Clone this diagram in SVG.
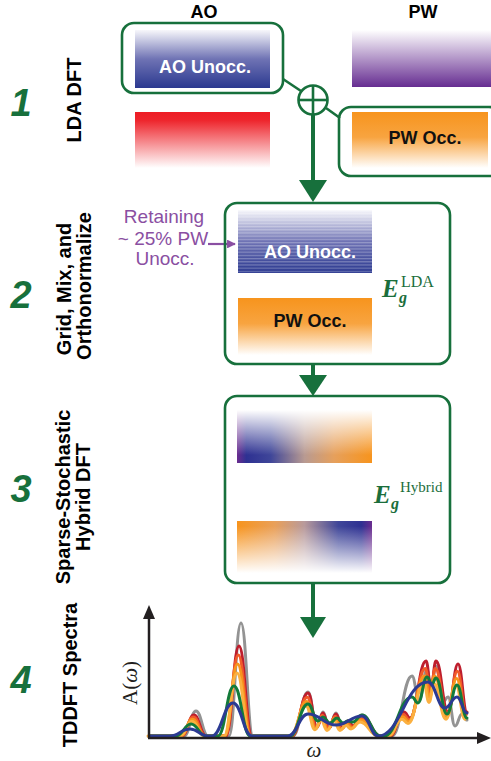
<svg xmlns="http://www.w3.org/2000/svg" xmlns:xlink="http://www.w3.org/1999/xlink" width="491" height="761" viewBox="0 0 491 761">
<style>
.box{fill:none;stroke:#17703c;stroke-width:2.6}
.conn{stroke:#17703c;stroke-width:2.6;fill:none}
.shaft{stroke:#17703c;stroke-width:4;fill:none}
.head{fill:#17703c}
.num{font-family:"Liberation Sans",Arial,sans-serif;font-weight:bold;font-style:italic;font-size:38px;fill:#17703c;text-anchor:middle}
.lab{font-family:"Liberation Sans",Arial,sans-serif;font-weight:bold;font-size:20px;fill:#000;text-anchor:middle}
.hdr{font-family:"Liberation Sans",Arial,sans-serif;font-weight:bold;font-size:18px;fill:#000;text-anchor:middle}
.inw{font-family:"Liberation Sans",Arial,sans-serif;font-weight:bold;font-size:18px;fill:#fff;text-anchor:middle}
.inb{font-family:"Liberation Sans",Arial,sans-serif;font-weight:bold;font-size:18px;fill:#111;text-anchor:middle}
.math{font-family:"Liberation Serif","Times New Roman",serif;fill:#1b6e3c}
.ret{font-family:"Liberation Sans",Arial,sans-serif;font-size:19px;fill:#8a4fa2;text-anchor:middle}
.axis{stroke:#231f20;stroke-width:2.5;fill:none}
.sp{fill:none;stroke-width:3;stroke-linejoin:round;stroke-linecap:round}
</style>
<defs>
<linearGradient id="gBlue" x1="0" y1="0" x2="0" y2="1"><stop offset="0" stop-color="#f7f7fb"/><stop offset="0.5" stop-color="#6f73b4"/><stop offset="1" stop-color="#2b3990"/></linearGradient>
<linearGradient id="gPurple" x1="0" y1="0" x2="0" y2="1"><stop offset="0" stop-color="#ffffff"/><stop offset="1" stop-color="#662d91"/></linearGradient>
<linearGradient id="gRed" x1="0" y1="0" x2="0" y2="1"><stop offset="0" stop-color="#ed1c24"/><stop offset="0.15" stop-color="#ee262d"/><stop offset="1" stop-color="#ffffff"/></linearGradient>
<linearGradient id="gOrange" x1="0" y1="0" x2="0" y2="1"><stop offset="0" stop-color="#f7941d"/><stop offset="0.45" stop-color="#f8a440"/><stop offset="1" stop-color="#ffffff"/></linearGradient>
<linearGradient id="gMixTop" x1="0" y1="0" x2="1" y2="0"><stop offset="0" stop-color="#6b2c8f"/><stop offset="0.07" stop-color="#2e3192"/><stop offset="0.25" stop-color="#3f4699"/><stop offset="0.5" stop-color="#b89a92"/><stop offset="0.72" stop-color="#e6a05c"/><stop offset="1" stop-color="#f7941d"/></linearGradient>
<linearGradient id="gMixBot" x1="0" y1="0" x2="1" y2="0"><stop offset="0" stop-color="#f7941d"/><stop offset="0.28" stop-color="#e9a05a"/><stop offset="0.5" stop-color="#b89a9c"/><stop offset="0.75" stop-color="#3f4699"/><stop offset="0.92" stop-color="#2e3192"/><stop offset="1" stop-color="#6b2c8f"/></linearGradient>
<linearGradient id="fadeTop" x1="0" y1="0" x2="0" y2="1"><stop offset="0" stop-color="#fff" stop-opacity="1"/><stop offset="0.85" stop-color="#fff" stop-opacity="0"/></linearGradient>
<linearGradient id="fadeBot" x1="0" y1="0" x2="0" y2="1"><stop offset="0.1" stop-color="#fff" stop-opacity="0"/><stop offset="1" stop-color="#fff" stop-opacity="1"/></linearGradient>
<pattern id="stripes" x="0" y="210" width="4" height="3.2" patternUnits="userSpaceOnUse"><rect x="0" y="0" width="4" height="1.2" fill="#ffffff" fill-opacity="0.28"/></pattern>
<marker id="pArrow" viewBox="0 0 10 10" refX="9" refY="5" markerWidth="4" markerHeight="4" orient="auto"><path d="M0,0 L10,5 L0,10 z" fill="#8a4fa2"/></marker>
<path id="redCurve" d="M150,736 L182,736 C187.4,736 188.6,715 194,715 C199.4,715 200.6,736 206,736 L226,736 C231.850,736 233.15,646 239,646 C244.85,646 246.15,736 252,736 L292,736 C299.2,736 300.8,693 308,693 C312.05,693 312.95,727 317,727 C319.7,727 320.3,713 323,713 C325.7,713 326.3,728 329,728 C332.15,728 332.85,714 336,714 C338.7,714 339.3,728 342,728 C344.7,728 345.3,721 348,721 C350.25,721 350.75,726 353,726 C357.05,726 357.95,716 362,716 C370.1,716 371.9,736 380,736 L390,736 C396.3,736 397.7,712 404,712 C406.7,712 407.3,718 410,718 C417.2,718 418.8,661 426,661 C428.25,661 428.75,688 431,688 C433.25,688 433.75,661 436,661 C441.4,661 442.6,712 448,712 C452.5,712 453.5,664 458,664 C462.05,664 462.95,712 467,712" vector-effect="non-scaling-stroke"/>
</defs>
<rect x="0" y="0" width="491" height="761" fill="#fff"/>

<g id="headers">
<text class="hdr" x="204" y="18">AO</text>
<text class="hdr" x="423" y="18">PW</text>
</g>
<g id="step1-label">
<text class="num" x="21" y="116">1</text>
<text class="lab" transform="translate(81,100) rotate(-90)">LDA DFT</text>
</g>
<g id="step2-label">
<text class="num" x="21" y="308">2</text>
<text class="lab" transform="translate(71,289) rotate(-90)">Grid, Mix, and</text>
<text class="lab" transform="translate(91,286) rotate(-90)">Orthonormalize</text>
</g>
<g id="step3-label">
<text class="num" x="21" y="502">3</text>
<text class="lab" transform="translate(70,497) rotate(-90)">Sparse-Stochastic</text>
<text class="lab" transform="translate(90,497) rotate(-90)">Hybrid DFT</text>
</g>
<g id="step4-label">
<text class="num" x="21" y="693">4</text>
<text class="lab" transform="translate(77,675) rotate(-90)">TDDFT Spectra</text>
</g>

<g id="connectors">
<line class="conn" x1="283" y1="79" x2="301" y2="91"/>
<line class="conn" x1="326" y1="108" x2="340" y2="118"/>
<line class="shaft" x1="313" y1="114" x2="313" y2="184"/>
<polygon class="head" points="299,180 327,180 313,202"/>
<line class="shaft" x1="313" y1="364" x2="313" y2="379"/>
<polygon class="head" points="299,375 327,375 313,396"/>
<line class="shaft" x1="313" y1="583" x2="313" y2="621"/>
<polygon class="head" points="300,617 326,617 313,638"/>
<line x1="208" y1="244" x2="235" y2="244" stroke="#8a4fa2" stroke-width="2.2" marker-end="url(#pArrow)"/>
</g>

<g id="ao-unocc-1">
<rect x="135" y="30" width="135" height="58" fill="url(#gBlue)"/>
<text class="inw" x="205" y="73">AO Unocc.</text>
<rect class="box" x="122" y="23" width="161" height="70" rx="12"/>
</g>
<g id="pw-unocc-1">
<rect x="352" y="30" width="139" height="57" fill="url(#gPurple)"/>
</g>
<g id="ao-occ-1">
<rect x="135" y="112" width="135" height="56" fill="url(#gRed)"/>
</g>
<g id="pw-occ-1">
<rect x="352" y="112" width="136" height="56" fill="url(#gOrange)"/>
<text class="inb" x="425" y="144">PW Occ.</text>
<rect class="box" x="339" y="107" width="162" height="69" rx="12"/>
</g>
<g id="merge">
<circle cx="313" cy="100" r="14.5" fill="#fff" stroke="#17703c" stroke-width="2.6"/>
<line class="conn" x1="313" y1="85.5" x2="313" y2="114.5"/>
<line class="conn" x1="298.5" y1="100" x2="327.5" y2="100"/>
</g>

<g id="step2">
<rect class="box" x="225" y="203" width="225" height="161" rx="12"/>
<rect x="238" y="210" width="134" height="63" fill="url(#gBlue)"/>
<rect x="238" y="210" width="134" height="63" fill="url(#stripes)"/>
<text class="inw" x="310" y="258">AO Unocc.</text>
<rect x="238" y="298" width="134" height="57" fill="url(#gOrange)"/>
<text class="inb" x="310" y="327">PW Occ.</text>
<text class="math" x="382" y="297" font-size="25" font-weight="bold" font-style="italic">E</text>
<text class="math" x="399" y="303" font-size="16" font-weight="bold" font-style="italic">g</text>
<text class="math" x="401" y="287" font-size="16">LDA</text>
</g>
<g id="retaining">
<text class="ret" x="164" y="223">Retaining</text>
<text class="ret" x="163" y="245">~ 25% PW</text>
<text class="ret" x="165" y="265">Unocc.</text>
</g>

<g id="step3">
<rect class="box" x="225" y="396" width="225" height="187" rx="12"/>
<rect x="237" y="410" width="135" height="53" fill="url(#gMixTop)"/>
<rect x="237" y="410" width="135" height="53" fill="url(#fadeTop)"/>
<rect x="237" y="521" width="135" height="52" fill="url(#gMixBot)"/>
<rect x="237" y="521" width="135" height="52" fill="url(#fadeBot)"/>
<text class="math" x="374" y="503" font-size="25" font-weight="bold" font-style="italic">E</text>
<text class="math" x="391" y="509" font-size="16" font-weight="bold" font-style="italic">g</text>
<text class="math" x="400" y="492" font-size="15">Hybrid</text>
</g>

<g id="spectra">
<path class="sp" stroke="#939393" d="M150,736 L184,736 C189.4,736 190.6,711 196,711 C201.4,711 202.6,736 208,736 L229,736 C234.4,736 235.6,623 241,623 C246.4,623 247.6,736 253,736 L293,736 C299.75,736 301.25,692 308,692 C312.05,692 312.95,727 317,727 C319.7,727 320.3,712 323,712 C325.7,712 326.3,728 329,728 C332.15,728 332.85,713 336,713 C338.7,713 339.3,728 342,728 C344.7,728 345.3,721 348,721 C350.25,721 350.75,726 353,726 C357.05,726 357.95,715 362,715 C370.1,715 371.9,736 380,736 L392,736 C401,736 403,676 412,676 C415.15,676 415.85,700 419,700 C422.6,700 423.4,670 427,670 C428.8,670 429.2,688 431,688 C433.25,688 433.75,666 436,666 C439.15,666 439.85,702 443,702 C445.25,702 445.75,697 448,697 C451.15,697 451.85,726 455,726 C458.15,726 458.85,714 462,714 C464.25,714 464.75,720 467,720"/>
<use xlink:href="#redCurve" class="sp" stroke="#be1e2d"/>
<use xlink:href="#redCurve" class="sp" stroke="#f15a29" transform="translate(-0.7,73.6) scale(1,0.9)"/>
<use xlink:href="#redCurve" class="sp" stroke="#f7941d" transform="translate(-1.4,147.2) scale(1,0.8)"/>
<use xlink:href="#redCurve" class="sp" stroke="#fbb040" transform="translate(-2,220.8) scale(1,0.7)"/>
<path class="sp" stroke="#137b3a" d="M150,736 L176,736 C182.75,736 184.25,724 191,724 C197.75,724 199.25,736 206,736 L218,736 C225.2,736 226.8,686 234,686 C241.2,686 242.8,736 250,736 L290,736 C298.1,736 299.9,704 308,704 C312.5,704 313.5,721 318,721 C320.25,721 320.75,717 323,717 C326.15,717 326.85,723 330,723 C333.15,723 333.85,718 337,718 C339.7,718 340.3,723 343,723 C345.25,723 345.75,721 348,721 C350.25,721 350.75,722 353,722 C357.05,722 357.95,715 362,715 C370.1,715 371.9,736 380,736 L384,736 C396.6,736 399.4,697 412,697 C414.7,697 415.3,703 418,703 C422.05,703 422.95,677 427,677 C429.25,677 429.75,684 432,684 C433.8,684 434.2,678 436,678 C440.95,678 442.05,714 447,714 C451.5,714 452.5,685 457,685 C461.5,685 462.5,718 467,718"/>
<path class="sp" stroke="#2b3a93" d="M150,736 L170,736 C179,736 181,729 190,729 C198.1,729 199.9,736 208,736 L212,736 C221.45,736 223.55,703 233,703 C241.55,703 243.45,736 252,736 L288,736 C297,736 299,714 308,714 C320.6,714 323.4,725 336,725 C347.7,725 350.3,716 362,716 C369.2,716 370.8,736 378,736 C400.5,736 405.5,682 428,682 C435.65,682 437.35,708 445,708 C450.4,708 451.6,697 457,697 C461.5,697 462.5,713 467,713"/>
<line class="axis" x1="149" y1="738" x2="149" y2="616"/>
<polygon points="143,619 155,619 149,605" fill="#231f20"/>
<line class="axis" x1="148" y1="738" x2="480" y2="738"/>
<polygon points="477,732 477,744 491,738" fill="#231f20"/>
<text transform="translate(137,683) rotate(-90)" font-family="Liberation Serif,Times New Roman,serif" font-size="21" fill="#231f20" text-anchor="middle">A(<tspan font-style="italic">ω</tspan>)</text>
<text x="314" y="757" font-family="Liberation Serif,Times New Roman,serif" font-size="21" font-style="italic" fill="#231f20" text-anchor="middle">ω</text>
</g>
</svg>
